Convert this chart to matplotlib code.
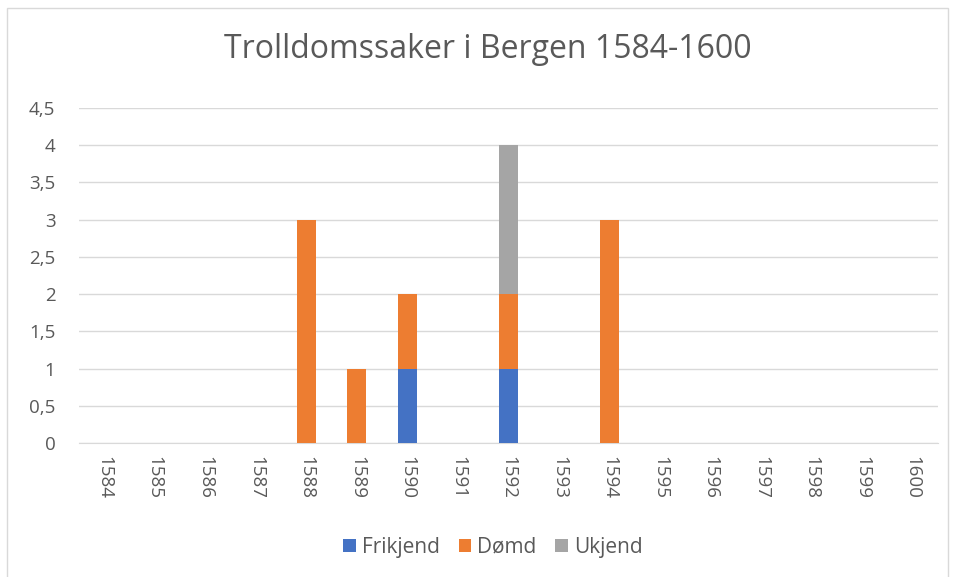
import matplotlib.pyplot as plt
import numpy as np

# Data
years = [str(y) for y in range(1584, 1601)]
frikjend = [0, 0, 0, 0, 0, 0, 1, 0, 1, 0, 0, 0, 0, 0, 0, 0, 0]
domd = [0, 0, 0, 0, 3, 1, 1, 0, 1, 0, 3, 0, 0, 0, 0, 0, 0]
ukjend = [0, 0, 0, 0, 0, 0, 0, 0, 2, 0, 0, 0, 0, 0, 0, 0, 0]

plt.rcParams['font.family'] = ['Open Sans', 'DejaVu Sans']

fig = plt.figure(figsize=(9.55, 5.77), dpi=100)
ax = fig.add_axes([0.0827, 0.232, 0.8995, 0.581])

x = np.arange(len(years))
w = 0.38
b1 = np.array(frikjend)
b2 = b1 + np.array(domd)
ax.bar(x, frikjend, w, color='#4472C4', label='Frikjend', zorder=3)
ax.bar(x, domd, w, bottom=b1, color='#ED7D31', label='Dømd', zorder=3)
ax.bar(x, ukjend, w, bottom=b2, color='#A5A5A5', label='Ukjend', zorder=3)

ax.set_xlim(-0.5, len(years) - 0.5)
ax.set_ylim(0, 4.5)
yt = np.arange(0, 4.51, 0.5)
ax.set_yticks(yt)
ax.set_yticklabels([('%g' % v).replace('.', ',') for v in yt])
ax.set_xticks(x)
ax.set_xticklabels(years, rotation=-90)
ax.tick_params(axis='both', length=0, labelsize=13.5, colors='#595959', pad=9)
ax.tick_params(axis='y', pad=17)
ax.grid(axis='y', color='#D9D9D9', lw=1, zorder=0)
for s in ['top', 'right', 'left']:
    ax.spines[s].set_visible(False)
ax.spines['bottom'].set_color('#D9D9D9')

fig.text(488 / 955, 1 - 50 / 577, 'Trolldomssaker i Bergen 1584-1600', ha='center', va='center',
         fontsize=23, color='#595959')

fig.legend(loc='center', bbox_to_anchor=(493 / 955, 1 - 547 / 577), ncol=3, frameon=False,
           fontsize=15, labelcolor='#595959', handlelength=0.6, handleheight=0.6,
           columnspacing=0.9, handletextpad=0.3)

fig.patches.append(plt.Rectangle((7 / 955, -0.01), 1 - 14 / 955, 1 - 8 / 577 + 0.01,
                                 transform=fig.transFigure, fill=False,
                                 edgecolor='#D9D9D9', lw=1))

fig.savefig('out.png', dpi=100)
